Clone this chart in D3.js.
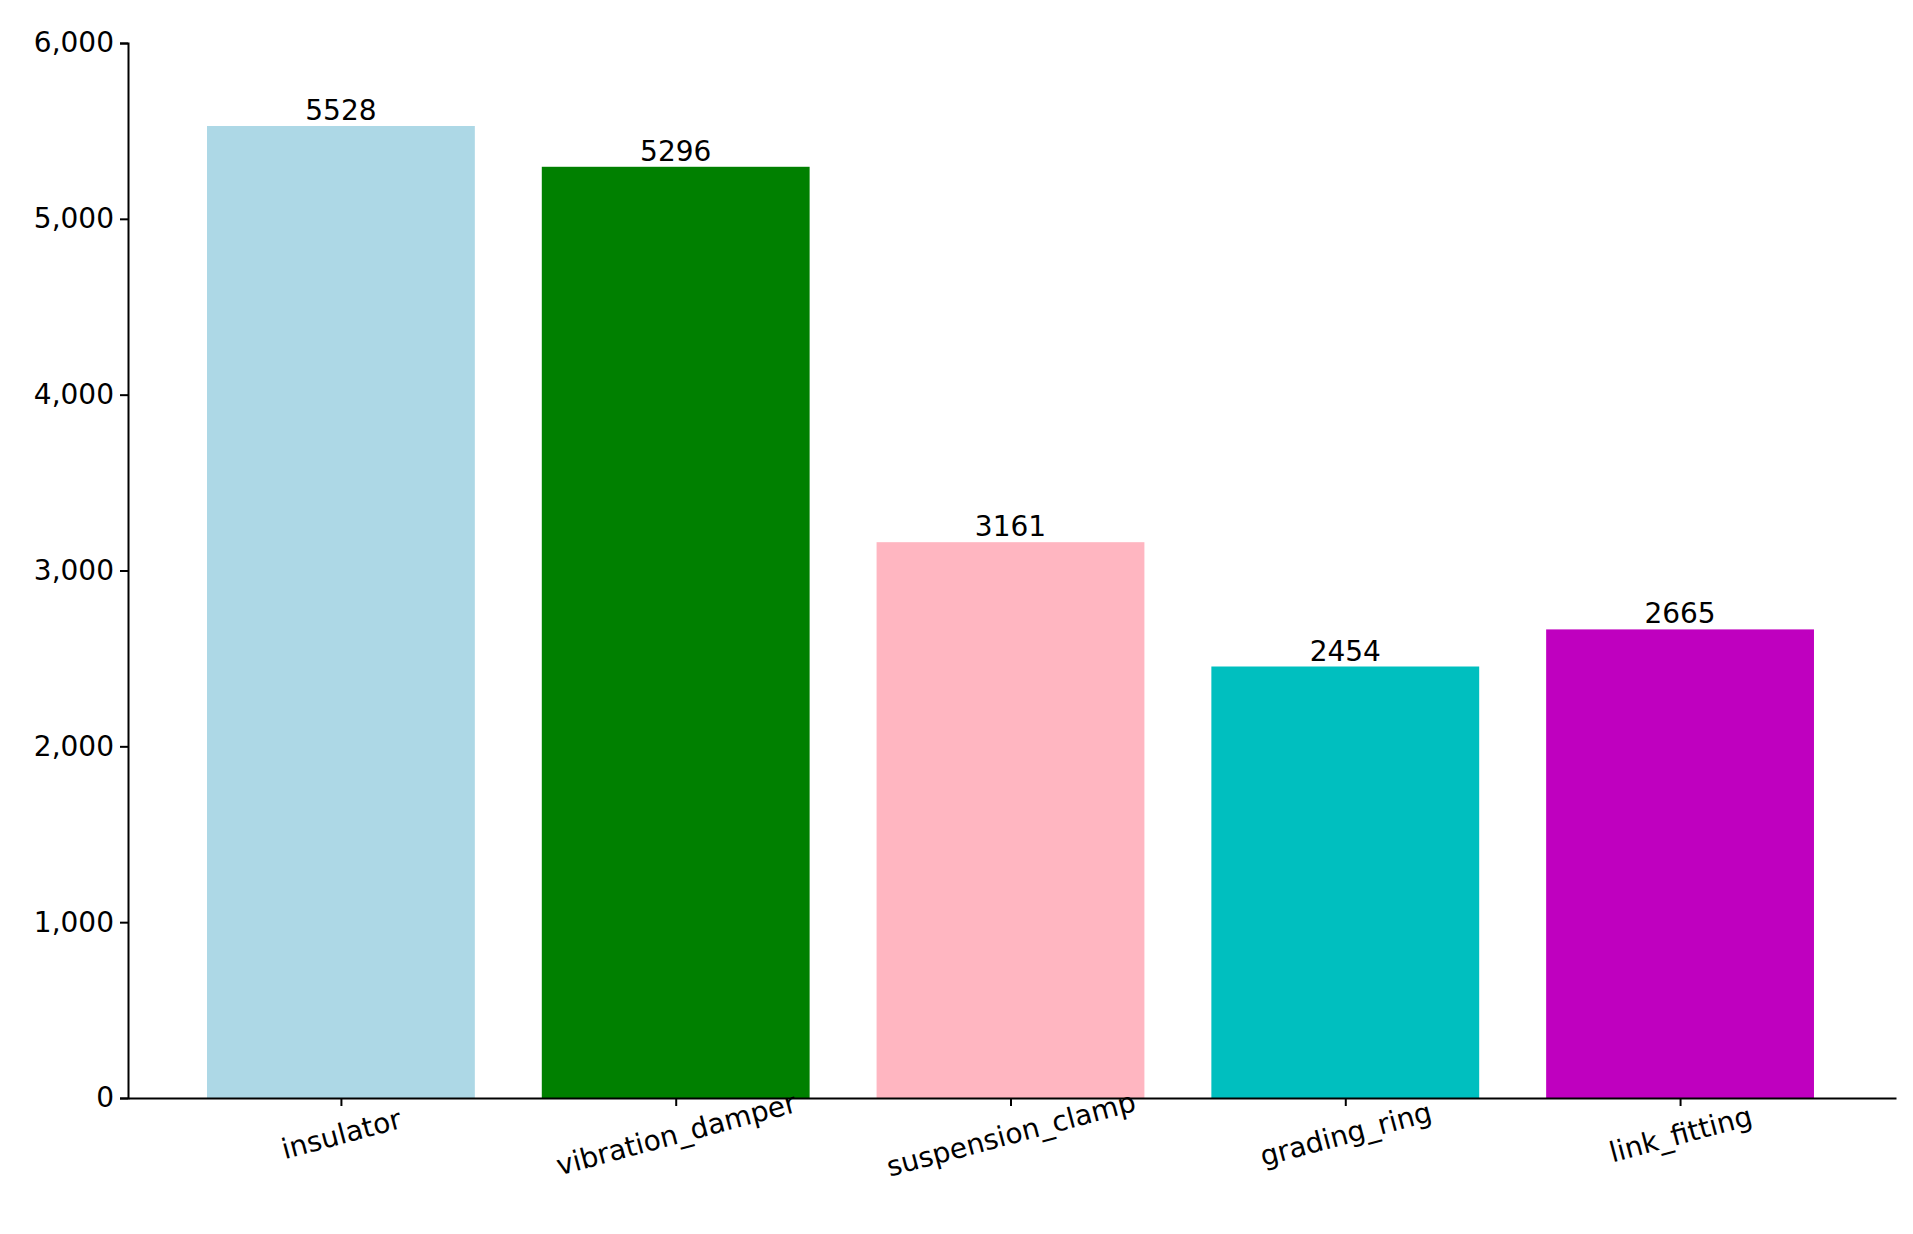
<!DOCTYPE html><html><head><meta charset="utf-8"><script src="https://cdn.jsdelivr.net/npm/d3@7"></script>
<style>body{margin:0;background:#fff}text{font-family:"DejaVu Sans";fill:#000}</style></head><body><svg id="c" width="1913" height="1234"></svg><script>
const categories=["insulator","vibration_damper","suspension_clamp","grading_ring","link_fitting"];
const values=[5528,5296,3161,2454,2665];
const colors=["#add8e6","#008000","#ffb6c1","#00bfbf","#bf00bf"];
const yTicks=[0,1000,2000,3000,4000,5000,6000];
const svg=d3.select("#c");
const L=128,R=1896,T=43,B=1098;
const x=d3.scaleLinear().domain([-0.636,4.645]).range([L,R]);
const y=d3.scaleLinear().domain([0,6000]).range([B,T]);
svg.selectAll("rect").data(values).join("rect").attr("x",(d,i)=>x(i-0.4)).attr("width",(d,i)=>x(i+0.4)-x(i-0.4))
 .attr("y",d=>y(d)).attr("height",d=>B-y(d)).attr("fill",(d,i)=>colors[i]);
svg.selectAll(".v").data(values).join("text").attr("x",(d,i)=>x(i)).attr("y",d=>y(d)-6).attr("text-anchor","middle").attr("font-size",28).text(d=>d);
const ya=svg.append("g").attr("transform",`translate(${L},0)`).call(d3.axisLeft(y).tickValues(yTicks).tickSize(8).tickPadding(6));
ya.selectAll("text").attr("font-size",28).style("font-family","DejaVu Sans");
const xa=svg.append("g").attr("transform",`translate(0,${B})`).call(d3.axisBottom(x).tickValues(d3.range(5)).tickFormat(i=>categories[i]).tickSize(8).tickSizeOuter(0));
xa.selectAll("text").attr("font-size",28).style("font-family","DejaVu Sans").attr("text-anchor","middle")
 .attr("transform","translate(0,36) rotate(-15)").attr("y",0).attr("dy","0.35em");
svg.selectAll(".domain,.tick line").attr("stroke","#000").attr("stroke-width",2);
</script></body></html>
